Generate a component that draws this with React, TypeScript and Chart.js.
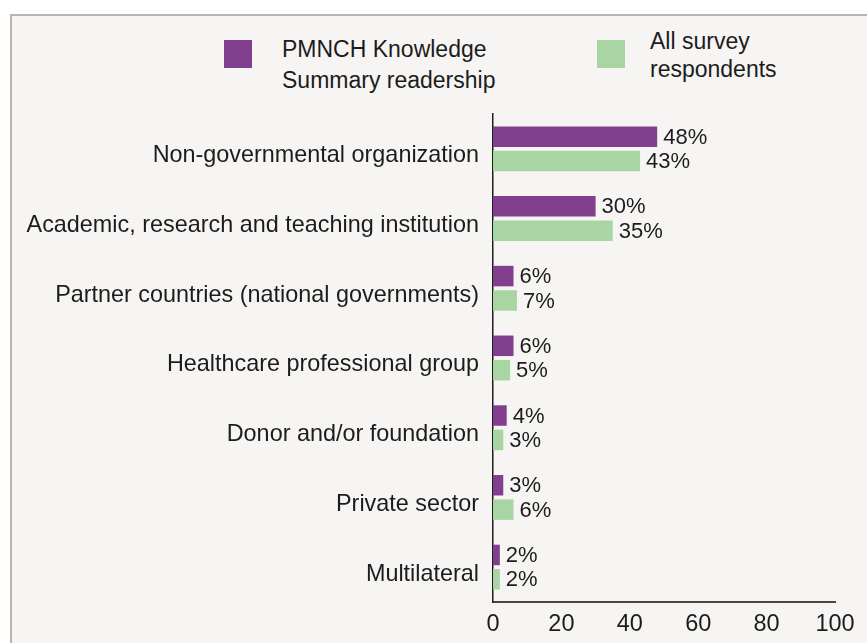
import React, { useEffect, useRef } from "react";
import { Chart, registerables } from "chart.js";

Chart.register(...registerables);

const categories = [
  "Non-governmental organization",
  "Academic, research and teaching institution",
  "Partner countries (national governments)",
  "Healthcare professional group",
  "Donor and/or foundation",
  "Private sector",
  "Multilateral",
];
const pmnchValues = [48, 30, 6, 6, 4, 3, 2];
const allRespondentsValues = [43, 35, 7, 5, 3, 6, 2];
const seriesNames = ["PMNCH Knowledge\nSummary readership", "All survey\nrespondents"];
const xTicks = [0, 20, 40, 60, 80, 100];

const PURPLE = "#813f8e";
const GREEN = "#a8d5a2";
const FONT = '"Liberation Sans", Arial, sans-serif';
const TEXT = "#1c1c1c";

const valueLabels = {
  id: "valueLabels",
  afterDatasetsDraw(chart: any) {
    const ctx = chart.ctx;
    ctx.save();
    ctx.font = `22px ${FONT}`;
    ctx.fillStyle = TEXT;
    ctx.textAlign = "left";
    ctx.textBaseline = "middle";
    chart.data.datasets.forEach((ds: any, i: number) => {
      const meta = chart.getDatasetMeta(i);
      meta.data.forEach((bar: any, j: number) => {
        ctx.fillText(`${ds.data[j]}%`, bar.x + 6, bar.y + 1);
      });
    });
    ctx.restore();
  },
};

export default function App() {
  const canvasRef = useRef<HTMLCanvasElement | null>(null);

  useEffect(() => {
    if (!canvasRef.current) return;
    const chart = new Chart(canvasRef.current, {
      type: "bar",
      data: {
        labels: categories,
        datasets: [
          {
            label: seriesNames[0],
            data: pmnchValues,
            backgroundColor: PURPLE,
            barPercentage: 0.84,
            categoryPercentage: 0.7,
          },
          {
            label: seriesNames[1],
            data: allRespondentsValues,
            backgroundColor: GREEN,
            barPercentage: 0.84,
            categoryPercentage: 0.7,
          },
        ],
      },
      options: {
        indexAxis: "y",
        animation: false,
        responsive: false,
        devicePixelRatio: 1,
        layout: { padding: { top: 114, right: 32, left: 0, bottom: 0 } },
        plugins: {
          legend: { display: false },
          tooltip: { enabled: false },
        },
        scales: {
          x: {
            min: 0,
            max: 100,
            afterFit: (scale: any) => {
              scale.height = 41;
            },
            afterBuildTicks: (scale: any) => {
              scale.ticks = xTicks.map((v) => ({ value: v }));
            },
            grid: { display: false, drawTicks: false },
            border: { display: true, color: "#484848", width: 2 },
            ticks: {
              padding: 8,
              color: TEXT,
              font: { family: FONT, size: 23.5 },
            },
          },
          y: {
            afterFit: (scale: any) => {
              scale.width = 493;
            },
            grid: { display: false, drawTicks: false },
            border: { display: true, color: "#1e1e1e", width: 1.5 },
            ticks: {
              padding: 14,
              labelOffset: 7,
              color: TEXT,
              font: { family: FONT, size: 23.4 },
            },
          },
        },
      },
      plugins: [valueLabels],
    });
    return () => chart.destroy();
  }, []);

  const legendText: React.CSSProperties = {
    position: "absolute",
    fontFamily: FONT,
    fontSize: 23,
    color: TEXT,
    whiteSpace: "pre",
  };

  return (
    <div
      style={{
        position: "fixed",
        left: 0,
        top: 0,
        width: 867,
        height: 643,
        background: "#ffffff",
        overflow: "hidden",
      }}
    >
      <div
        style={{
          position: "absolute",
          left: 10,
          top: 14,
          width: 880,
          height: 660,
          border: "2px solid #bcb3ad",
          background: "#f6f5f3",
          boxSizing: "border-box",
        }}
      />
      <div style={{ position: "absolute", left: 224, top: 40, width: 28, height: 28, background: PURPLE }} />
      <div style={{ ...legendText, left: 282, top: 34, lineHeight: "31px" }}>{seriesNames[0]}</div>
      <div style={{ position: "absolute", left: 597, top: 40, width: 28, height: 28, background: GREEN }} />
      <div style={{ ...legendText, left: 650, top: 27, lineHeight: "28px" }}>{seriesNames[1]}</div>
      <canvas
        ref={canvasRef}
        width={867}
        height={643}
        style={{ position: "absolute", left: 0, top: 0, width: 867, height: 643 }}
      />
    </div>
  );
}
